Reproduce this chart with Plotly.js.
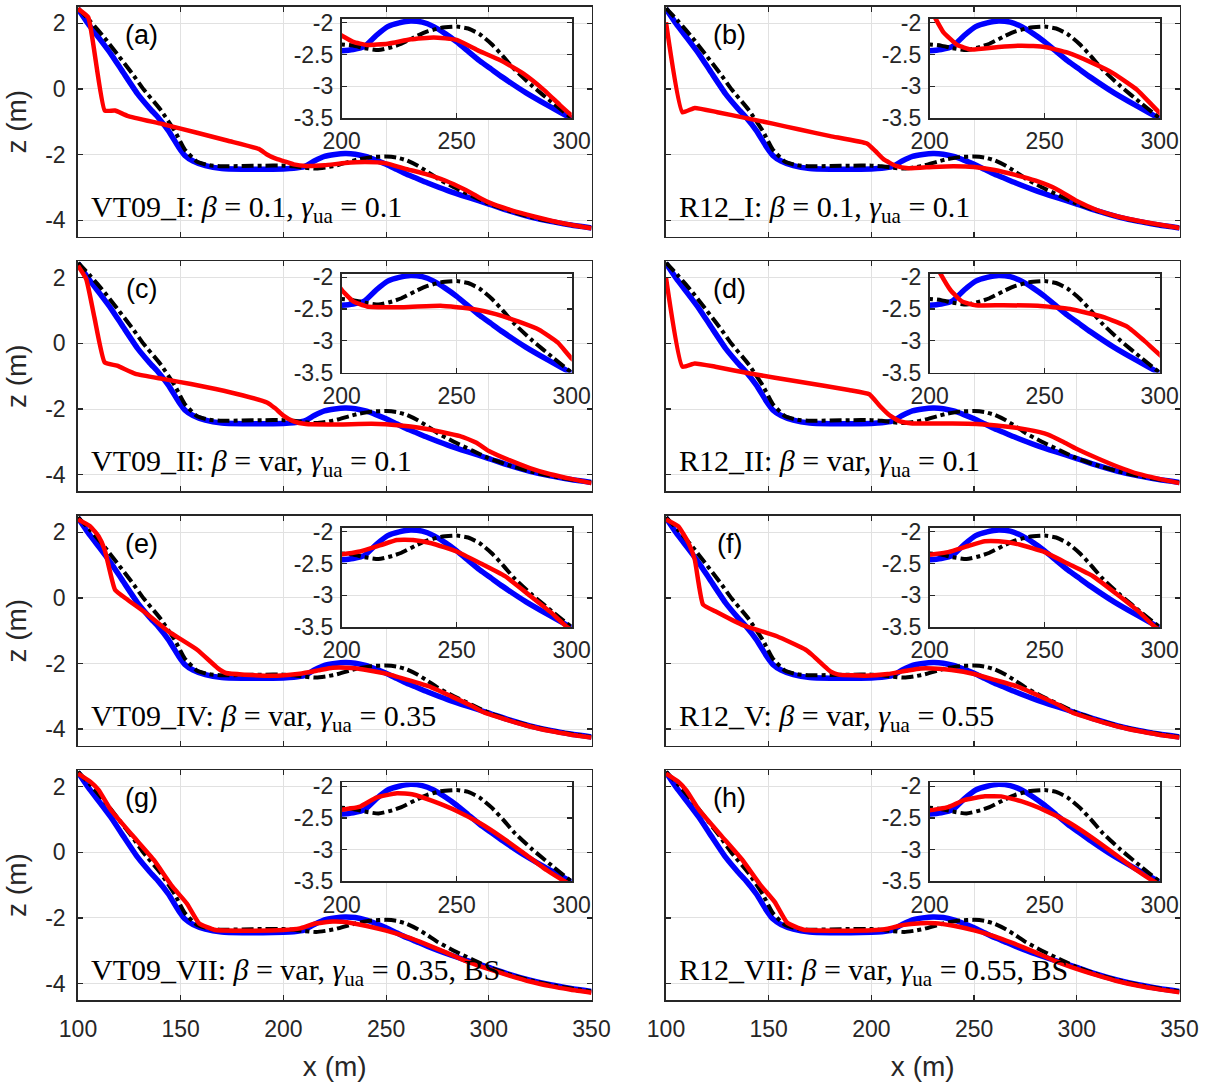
<!DOCTYPE html>
<html><head><meta charset="utf-8">
<script src="https://cdn.plot.ly/plotly-3.0.1.min.js"></script>
<style>html,body{margin:0;padding:0;background:#fff}</style>
</head><body>
<div id="chart" style="width:1210px;height:1087px"></div>
<script>
// ---------- data ----------
const xTicksMain = [100, 150, 200, 250, 300, 350];
const xTickTextMain = ['100', '150', '200', '250', '300', '350'];
const yTicksMain = [-4, -2, 0, 2];
const yTickTextMain = ['-4', '-2', '0', '2'];
const xTicksInset = [200, 250, 300];
const xTickTextInset = ['200', '250', '300'];
const yTicksInset = [-3.5, -3, -2.5, -2];
const yTickTextInset = ['-3.5', '-3', '-2.5', '-2'];

const panelLetters = ['(a)', '(b)', '(c)', '(d)', '(e)', '(f)', '(g)', '(h)'];
const caseNames = ['VT09_I', 'R12_I', 'VT09_II', 'R12_II', 'VT09_IV', 'R12_V', 'VT09_VII', 'R12_VII'];
const betaVals = ['0.1', '0.1', 'var', 'var', 'var', 'var', 'var', 'var'];
const gammaVals = ['0.1', '0.1', '0.1', '0.1', '0.35', '0.55', '0.35', '0.55'];
const caseSuffix = ['', '', '', '', '', '', ', BS', ', BS'];

// measured profile (blue)
const xBlue = [100,105,110,116,122,129,135,139,144,149,152,156,162,170,180,190,200,205,210,215,220,225,230,235,240,245,250,255,260,265,270,280,290,300,310,320,330,340,350];
const zBlue = [2.44,1.98,1.57,1.07,0.5,-0.15,-0.6,-0.87,-1.27,-1.78,-2.03,-2.2,-2.34,-2.43,-2.45,-2.45,-2.44,-2.42,-2.37,-2.2,-2.06,-2.0,-1.97,-1.99,-2.06,-2.17,-2.3,-2.45,-2.6,-2.73,-2.86,-3.1,-3.31,-3.51,-3.72,-3.9,-4.04,-4.15,-4.24];

// reference profile (black dash-dot)
const xBlack = [100,106,113,119,126,132,140,147,152,158,164,170,180,190,200,205,210,216,222,226,232,237,243,250,255,260,265,270,275,283,292,300,310,320,330,340,350];
const zBlack = [2.46,2.06,1.55,1.07,0.5,-0.02,-0.62,-1.27,-1.85,-2.22,-2.33,-2.36,-2.35,-2.34,-2.34,-2.36,-2.4,-2.43,-2.38,-2.33,-2.22,-2.14,-2.08,-2.06,-2.09,-2.18,-2.33,-2.52,-2.73,-3.0,-3.27,-3.5,-3.72,-3.9,-4.04,-4.15,-4.24];

// modelled profiles (red), one per panel
const xRedA = [100,105,113,118,124,141,157,173,188,192,196,200,205,211,220,230,240,250,259,269,279,288,295,300,310,322,338,350];
const zRedA = [2.44,2.18,-0.66,-0.66,-0.82,-1.07,-1.32,-1.58,-1.83,-2.0,-2.12,-2.2,-2.3,-2.35,-2.33,-2.26,-2.23,-2.27,-2.43,-2.59,-2.8,-3.06,-3.3,-3.46,-3.68,-3.89,-4.12,-4.25];
const xRedB = [100,108,114,125,139,152,165,180,198,202,206,212,218,230,240,250,260,270,280,290,300,310,320,335,350];
const zRedB = [2.03,-0.71,-0.58,-0.71,-0.89,-1.06,-1.24,-1.44,-1.67,-1.9,-2.15,-2.35,-2.42,-2.38,-2.36,-2.38,-2.47,-2.62,-2.8,-3.05,-3.42,-3.7,-3.89,-4.08,-4.24];
const xRedC = [100,104,108,113,119,128,142,155,167,180,192,196,200,205,211,227,243,257,267,277,286,294,300,310,320,330,340,350];
const zRedC = [2.37,1.96,0.79,-0.58,-0.68,-0.93,-1.09,-1.24,-1.39,-1.58,-1.8,-1.98,-2.2,-2.38,-2.46,-2.47,-2.45,-2.5,-2.58,-2.7,-2.83,-3.03,-3.28,-3.56,-3.8,-3.99,-4.13,-4.26];
const xRedD = [100,108,114,124,141,165,189,199,204,209,214,220,232,247,261,276,286,293,300,310,320,330,340,350];
const zRedD = [2.0,-0.71,-0.61,-0.71,-0.92,-1.17,-1.42,-1.55,-1.9,-2.2,-2.38,-2.44,-2.44,-2.45,-2.5,-2.63,-2.78,-2.99,-3.22,-3.5,-3.76,-3.98,-4.13,-4.26];
const xRedE = [100,106,110,113,118,124,133,144,158,168,172,181,197,208,217,224,231,239,250,260,271,282,291,298,310,320,330,340,350];
const zRedE = [2.39,2.18,1.88,1.47,0.25,-0.05,-0.46,-1.02,-1.58,-2.14,-2.29,-2.34,-2.37,-2.31,-2.21,-2.13,-2.13,-2.18,-2.31,-2.49,-2.7,-3.01,-3.27,-3.5,-3.74,-3.92,-4.06,-4.17,-4.26];
const xRedF = [100,106,111,114,118,124,137,154,168,171,180,184,197,208,217,224,230,239,250,260,271,282,291,298,310,320,330,340,350];
const zRedF = [2.39,2.18,1.67,1.17,-0.2,-0.41,-0.82,-1.17,-1.58,-1.73,-2.24,-2.34,-2.37,-2.32,-2.22,-2.15,-2.15,-2.2,-2.32,-2.5,-2.7,-3.0,-3.26,-3.5,-3.74,-3.92,-4.06,-4.17,-4.26];
const xRedG = [100,106,110,116,127,137,146,153,159,167,184,200,208,215,224,231,240,250,260,269,279,289,297,310,320,330,340,350];
const zRedG = [2.4,2.15,1.9,1.29,0.48,-0.24,-1.05,-1.56,-2.17,-2.37,-2.39,-2.37,-2.32,-2.18,-2.11,-2.13,-2.24,-2.39,-2.58,-2.79,-3.05,-3.32,-3.5,-3.76,-3.94,-4.08,-4.19,-4.28];
const xRedH = [100,106,110,116,127,137,146,153,159,167,184,200,208,215,224,231,240,250,260,269,279,289,297,310,320,330,340,350];
const zRedH = [2.4,2.15,1.88,1.3,0.5,-0.22,-1.0,-1.52,-2.15,-2.36,-2.39,-2.38,-2.33,-2.22,-2.16,-2.16,-2.24,-2.38,-2.56,-2.77,-3.03,-3.3,-3.49,-3.75,-3.93,-4.07,-4.18,-4.27];

// ---------- build ----------
const redX = [xRedA, xRedB, xRedC, xRedD, xRedE, xRedF, xRedG, xRedH];
const redZ = [zRedA, zRedB, zRedC, zRedD, zRedE, zRedF, zRedG, zRedH];

const W = 1210, H = 1087;
const colLeft = [78, 666], panelW = 513.5;
const rowTop = [6.9, 261.4, 515.9, 770.3], panelH = 229.6;
const insL = 263.7, insR = 493.7, insT = 12.1, insB = 111.1;

const sansFont = 'Liberation Sans, Arial, Helvetica, sans-serif';
const serifFont = 'Liberation Serif, Times New Roman, serif';
const axCol = '#262626';

function axBase() {
  return {
    showline: true, linecolor: axCol, linewidth: 1.8, mirror: 'ticks',
    ticks: 'inside', ticklen: 5, tickwidth: 1.2, tickcolor: axCol,
    showgrid: true, gridcolor: '#e1e1e1', gridwidth: 1, zeroline: false,
    tickfont: {family: sansFont, size: 23, color: axCol}, fixedrange: true,
    layer: 'above traces'
  };
}
function sfx(n) { return n === 1 ? '' : String(n); }

const traces = [];
const layout = {
  width: W, height: H, margin: {l: 0, r: 0, t: 0, b: 0},
  paper_bgcolor: '#ffffff', plot_bgcolor: '#ffffff', showlegend: false,
  annotations: []
};

for (let p = 0; p < 8; p++) {
  const col = p % 2, row = Math.floor(p / 2);
  const left = colLeft[col], top = rowTop[row];
  const mainN = p + 1, insN = p + 9;
  for (const n of [mainN, insN]) {
    const xa = 'x' + sfx(n), ya = 'y' + sfx(n);
    traces.push({x: xBlue, y: zBlue, xaxis: xa, yaxis: ya, mode: 'lines', hoverinfo: 'skip',
      line: {color: '#0000ff', width: 5.5, shape: 'spline', smoothing: 0.5}});
    traces.push({x: xBlack, y: zBlack, xaxis: xa, yaxis: ya, mode: 'lines', hoverinfo: 'skip',
      line: {color: '#000000', width: 4, dash: 'dashdot', shape: 'spline', smoothing: 0.5}});
    traces.push({x: redX[p], y: redZ[p], xaxis: xa, yaxis: ya, mode: 'lines', hoverinfo: 'skip',
      line: {color: '#ff0000', width: 4.5, shape: 'spline', smoothing: 0.4}});
  }
  // main axes
  const mx = Object.assign(axBase(), {
    domain: [left / W, (left + panelW) / W], range: [100, 350], anchor: 'y' + sfx(mainN),
    tickmode: 'array', tickvals: xTicksMain, ticktext: xTickTextMain,
    showticklabels: row === 3, ticklabelstandoff: 8
  });
  if (row === 3) mx.title = {text: 'x (m)', font: {family: sansFont, size: 28, color: axCol}, standoff: 15};
  const my = Object.assign(axBase(), {
    domain: [1 - (top + panelH) / H, 1 - top / H], range: [-4.5, 2.5], anchor: 'x' + sfx(mainN),
    tickmode: 'array', tickvals: yTicksMain, ticktext: yTickTextMain,
    showticklabels: col === 0, ticklabelstandoff: 6
  });
  if (col === 0) my.title = {text: 'z (m)', font: {family: sansFont, size: 28, color: axCol}, standoff: 10};
  layout['xaxis' + sfx(mainN)] = mx;
  layout['yaxis' + sfx(mainN)] = my;
  // inset axes
  layout['xaxis' + insN] = Object.assign(axBase(), {
    domain: [(left + insL) / W, (left + insR) / W], range: [200, 300], anchor: 'y' + insN,
    tickmode: 'array', tickvals: xTicksInset, ticktext: xTickTextInset, ticklabelstandoff: 2
  });
  layout['yaxis' + insN] = Object.assign(axBase(), {
    domain: [1 - (top + insB) / H, 1 - (top + insT) / H], range: [-3.5, -1.94], anchor: 'x' + insN,
    tickmode: 'array', tickvals: yTicksInset, ticktext: yTickTextInset, ticklabelstandoff: 2
  });
  // annotations
  layout.annotations.push({
    xref: 'x' + sfx(mainN), yref: 'y' + sfx(mainN), x: 131, y: 1.65,
    text: panelLetters[p], showarrow: false, xanchor: 'center', yanchor: 'middle',
    font: {family: sansFont, size: 27, color: '#000000'}
  });
  layout.annotations.push({
    xref: 'x' + sfx(mainN), yref: 'y' + sfx(mainN), x: 105.5, y: -3.65,
    text: caseNames[p] + ': <i>β</i> = ' + betaVals[p] + ', <i>γ</i><sub>ua</sub> = ' + gammaVals[p] + caseSuffix[p],
    showarrow: false, xanchor: 'left', yanchor: 'middle',
    font: {family: serifFont, size: 30, color: '#000000'}
  });
}

Plotly.newPlot('chart', traces, layout, {staticPlot: true, displayModeBar: false});
</script>
</body></html>
